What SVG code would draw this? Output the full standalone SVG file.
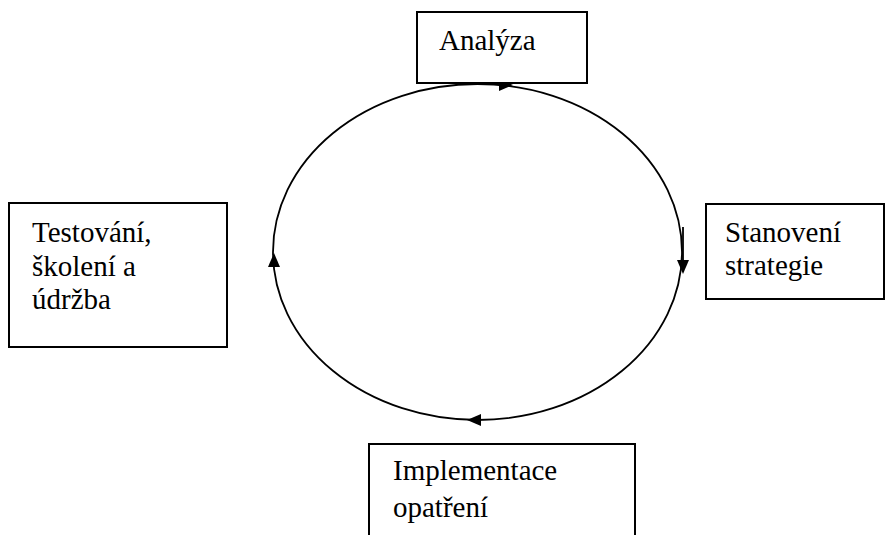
<svg xmlns="http://www.w3.org/2000/svg" width="888" height="535" viewBox="0 0 888 535">
  <style>
    .box { fill: #fff; stroke: #000; stroke-width: 2; }
    .lbl { font-family: "Liberation Serif", "Times New Roman", serif; font-size: 29px; fill: #000; }
    .cycle { fill: none; stroke: #000; stroke-width: 1.8; }
    .head { fill: #000; stroke: none; }
  </style>
  <rect width="888" height="535" fill="#fff"/>

  <!-- cycle with direction arrows -->
  <g id="connectors">
    <ellipse class="cycle" cx="477.5" cy="252" rx="204.5" ry="168"/>
    <line x1="683" y1="227" x2="683" y2="262" stroke="#000" stroke-width="1.8"/>
    <polygon class="head" points="513,85 499,79 499,91"/>
    <polygon class="head" points="683,274 677,260 689,260"/>
    <polygon class="head" points="467,420 481,414 481,426"/>
    <polygon class="head" points="274,253 268,267 280,267"/>
  </g>

  <g id="analyza">
    <rect class="box" x="417" y="12" width="170" height="71"/>
    <text class="lbl" x="439" y="50">Analýza</text>
  </g>

  <g id="stanoveni-strategie">
    <rect class="box" x="706" y="204" width="178" height="95"/>
    <text class="lbl" x="725" y="242">Stanovení</text>
    <text class="lbl" x="725" y="275">strategie</text>
  </g>

  <g id="implementace-opatreni">
    <rect class="box" x="369" y="444" width="266" height="110"/>
    <text class="lbl" x="393" y="480">Implementace</text>
    <text class="lbl" x="393" y="517">opatření</text>
  </g>

  <g id="testovani-skoleni-udrzba">
    <rect class="box" x="9" y="203" width="218" height="144"/>
    <text class="lbl" x="32" y="242">Testování,</text>
    <text class="lbl" x="32" y="276">školení a</text>
    <text class="lbl" x="32" y="309">údržba</text>
  </g>
</svg>
